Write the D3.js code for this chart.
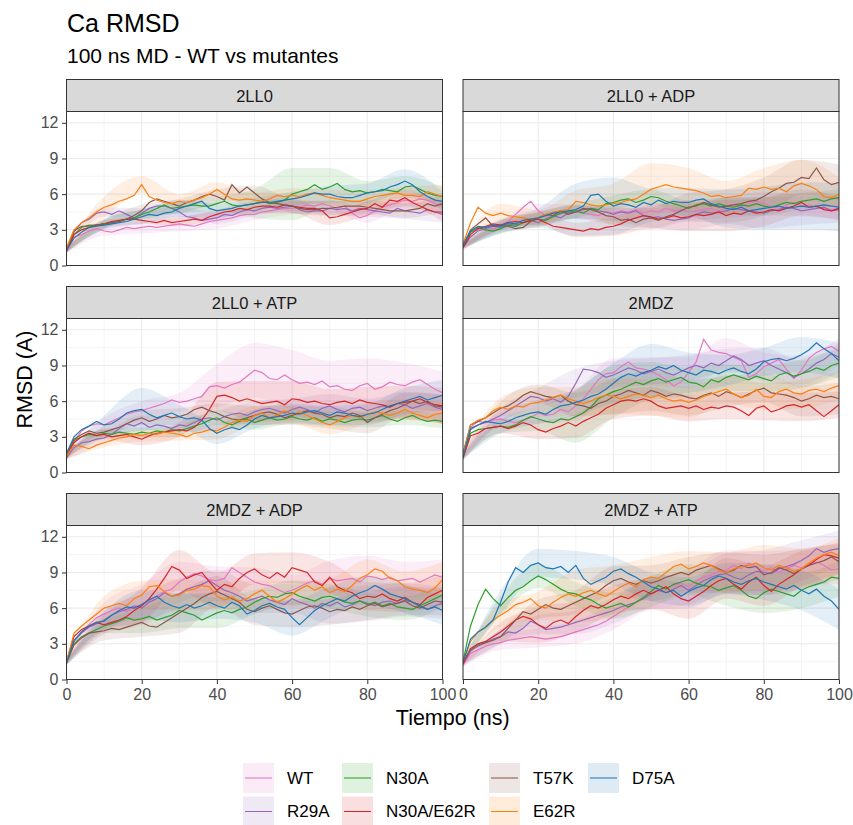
<!DOCTYPE html>
<html>
<head>
<meta charset="utf-8">
<script src="https://cdn.jsdelivr.net/npm/d3@7"></script>
<style>
body { margin: 0; background: #fff; }
svg { font-family: "Liberation Sans", Arial, Helvetica, sans-serif; }
</style>
</head>
<body>
<div id="chart"></div>
<script>
// ---- data ----
const PANELS = ["2LL0", "2LL0 + ADP", "2LL0 + ATP", "2MDZ", "2MDZ + ADP", "2MDZ + ATP"];
const SERIES = ["WT", "R29A", "N30A", "N30A/E62R", "T57K", "E62R", "D75A"];
const COLORS = ["#e377c2", "#9467bd", "#2ca02c", "#d62728", "#8c564b", "#ff7f0e", "#1f77b4"];
const X_TICKS = [0, 20, 40, 60, 80, 100];
const Y_TICKS = [0, 3, 6, 9, 12];
const TIME_NS = d3.range(0, 101, 2);          // sample times of the mean lines
const SD_TIME = [0, 10, 20, 30, 40, 50, 60, 70, 80, 90, 100]; // sample times of the ribbons

// mean RMSD per panel, one row per series (SERIES order), t = 0,2,...,100
const rmsd_2LL0 = [
  [1.2,2.4,2.6,2.9,3.1,2.9,2.8,3.0,3.2,3.1, 3.2,3.3,3.2,3.3,3.4,3.5,3.4,3.3,3.5,3.7, 3.8,3.9,4.0,4.2,4.3,4.3,4.5,4.6,4.7,4.8, 4.8,4.9,5.1,5.0,5.2,5.0,4.8,5.0,4.4,4.0, 4.2,4.6,4.9,5.1,5.3,5.5,5.4,5.6,5.5,5.2, 5.0],
  [1.2,2.8,3.6,3.9,4.4,4.5,4.3,4.6,4.3,4.0, 4.4,4.8,5.0,5.0,4.8,4.5,4.1,4.0,3.8,3.9, 4.0,4.3,4.2,4.5,4.7,4.6,4.8,4.9,4.8,4.9, 5.0,4.7,4.5,4.6,4.6,4.8,4.7,4.8,4.6,4.8, 4.7,4.6,4.5,4.4,4.8,4.6,4.5,4.4,4.7,4.5, 4.3],
  [1.3,2.6,3.2,3.4,3.4,3.5,3.6,3.7,3.9,4.0, 4.3,4.5,4.8,5.1,4.8,4.9,5.0,5.1,5.0,5.0, 5.2,5.4,5.1,5.0,5.1,5.2,5.4,5.2,5.3,5.5, 6.0,6.2,6.4,6.8,6.4,6.6,6.9,6.4,6.2,6.3, 6.1,6.2,6.4,6.3,6.2,6.6,6.7,6.4,6.1,5.9, 5.8],
  [1.2,2.6,3.0,3.2,3.4,3.5,3.7,3.8,3.9,3.9, 3.8,3.7,3.6,3.8,3.6,3.7,3.8,3.9,3.8,4.1, 4.3,4.5,4.6,4.8,4.7,4.9,5.0,5.0,4.9,5.1, 5.0,4.9,4.8,4.8,4.6,4.0,4.1,4.3,4.5,4.7, 4.8,5.2,4.9,5.5,5.4,5.7,5.3,5.0,4.7,4.5, 4.5],
  [1.4,2.9,3.3,3.3,3.4,3.5,3.6,3.7,3.9,4.2, 4.6,5.3,5.6,5.4,5.2,5.0,5.3,5.5,5.8,6.0, 5.8,5.5,6.8,6.1,6.6,6.1,5.6,5.3,5.2,5.1, 5.0,4.8,4.7,4.7,4.8,4.8,4.9,5.0,5.0,5.0, 4.9,4.8,4.7,4.6,4.6,4.6,4.7,4.8,5.2,5.0, 5.2],
  [1.5,3.0,3.6,4.0,4.5,4.9,5.1,5.4,5.6,5.9, 6.8,5.8,5.5,5.3,5.2,5.4,5.3,5.5,5.7,6.0, 6.4,6.0,5.6,5.5,5.6,5.5,5.4,5.6,5.9,5.8, 5.9,5.8,6.0,6.1,5.9,5.7,5.6,5.5,5.4,5.4, 5.6,5.8,5.9,6.0,6.1,5.9,5.9,5.8,6.2,6.0, 5.8],
  [1.3,2.3,2.8,3.2,3.3,3.4,3.5,3.6,3.7,3.9, 4.1,4.3,4.2,4.4,4.5,4.8,5.0,5.2,5.4,4.8, 4.6,4.7,4.8,5.0,5.1,5.2,5.3,5.3,5.4,5.5, 5.6,5.7,5.9,6.1,6.0,6.0,5.8,5.7,5.7,5.9, 6.1,6.2,6.3,6.6,6.8,7.1,6.8,6.2,5.8,5.5, 5.4]
];
const rmsd_2LL0_ADP = [
  [1.6,2.8,3.0,3.2,3.1,3.3,3.7,4.3,4.9,5.4, 4.6,4.2,4.4,4.3,4.6,4.5,4.4,4.3,4.2,4.5, 4.4,4.6,4.5,4.7,4.4,4.6,4.5,4.8,4.6,4.7, 4.5,4.6,4.7,4.8,4.6,4.9,5.1,5.0,5.2,5.4, 5.2,5.0,4.8,5.1,5.3,5.0,5.1,4.9,4.8,4.7, 4.8],
  [1.5,2.4,2.9,3.1,3.3,3.2,3.5,3.4,3.6,3.8, 3.6,3.9,4.2,4.0,4.4,4.5,4.7,4.8,4.6,4.5, 4.3,4.5,4.4,4.6,4.2,4.0,4.1,3.9,3.8,3.9, 4.0,4.3,4.5,4.4,4.5,4.6,4.8,4.7,4.6,4.5, 4.4,4.6,4.7,4.9,4.8,4.6,4.7,4.8,4.9,4.6, 4.7],
  [1.6,2.8,3.2,3.0,2.9,3.1,3.4,3.3,3.6,3.8, 3.9,3.8,4.1,4.4,4.5,4.6,4.4,4.8,4.7,5.2, 5.3,5.5,5.6,5.3,5.5,5.8,5.7,5.4,5.2,5.0, 4.8,5.1,5.2,5.0,5.2,5.0,4.9,5.1,5.0,5.2, 5.0,4.9,5.1,5.3,5.2,5.4,5.5,5.6,5.4,5.6, 5.7],
  [1.5,2.6,3.1,3.3,3.5,3.4,3.6,3.7,3.6,3.8, 3.9,3.6,3.3,3.2,3.1,3.0,2.9,3.1,3.0,3.2, 3.3,3.5,3.8,4.0,4.2,4.1,3.9,4.0,4.2,4.0, 4.1,4.3,4.2,4.3,4.5,4.2,4.4,4.3,4.6,4.4, 4.5,4.7,4.6,4.8,5.0,5.3,4.9,5.0,4.7,4.6, 4.8],
  [1.7,3.0,3.5,4.0,3.3,3.4,3.3,3.1,3.2,3.7, 4.0,4.3,4.2,4.6,4.3,4.5,4.8,4.7,4.5,4.2, 4.1,3.8,3.9,3.6,3.9,4.0,3.8,4.1,4.3,4.6, 4.9,5.0,5.3,5.1,4.9,5.0,5.1,5.2,5.4,5.5, 5.8,6.2,6.5,6.9,7.0,7.4,7.3,8.2,7.2,6.8, 7.0],
  [1.8,3.6,4.9,4.4,4.2,4.4,4.2,4.1,4.0,3.9, 4.0,4.3,4.5,4.6,4.7,5.4,5.3,5.1,5.0,5.1, 5.2,5.3,5.5,5.6,6.0,6.4,6.6,6.8,6.6,6.5, 6.4,6.3,6.1,5.8,5.9,5.7,5.8,5.9,6.5,6.4, 6.6,6.4,6.5,6.2,6.7,6.9,6.7,6.4,5.8,5.7, 6.0],
  [1.7,2.9,3.3,3.2,3.4,3.3,3.6,3.5,3.8,3.9, 4.0,4.2,4.4,4.5,4.6,4.7,5.0,5.9,6.0,5.4, 5.0,5.2,5.1,4.9,5.3,5.1,5.5,5.2,5.4,5.3, 5.3,5.5,5.6,5.2,5.0,4.8,4.7,4.9,4.6,4.7, 4.8,4.9,5.0,4.8,4.9,5.0,4.9,5.0,5.1,5.0, 4.9]
];
const rmsd_2LL0_ATP = [
  [1.3,2.6,3.5,3.9,4.1,4.0,4.3,4.6,4.9,5.1, 5.2,5.4,5.6,5.8,6.1,5.9,6.0,6.2,6.4,7.2, 7.3,7.1,7.4,7.6,8.1,8.6,8.4,7.9,7.8,8.2, 7.8,7.5,7.6,7.4,7.7,7.2,7.3,7.0,6.9,7.3, 7.5,7.0,7.2,7.6,7.4,7.3,7.6,7.8,7.4,7.0, 6.7],
  [1.2,2.1,2.5,2.6,2.8,2.9,3.2,3.7,4.1,3.9, 4.2,3.8,4.0,3.9,3.7,4.0,3.9,4.2,4.5,4.6, 4.4,4.7,4.9,5.0,4.8,5.1,5.3,5.4,5.2,5.0, 5.3,5.5,5.3,5.0,5.4,5.6,5.3,5.1,5.4,5.5, 5.2,5.4,5.6,5.5,5.8,5.7,5.4,5.6,5.8,5.5, 5.3],
  [1.3,2.7,3.0,3.2,3.1,3.3,3.2,3.4,3.3,3.2, 3.4,3.3,3.5,3.4,3.6,3.5,3.7,3.9,4.1,4.4, 4.6,4.2,4.0,4.3,4.5,4.2,4.4,4.6,4.4,4.5, 4.7,4.5,4.4,4.6,4.3,4.5,4.4,4.2,4.4,4.5, 4.4,4.6,4.8,4.5,4.3,4.6,4.8,4.5,4.3,4.4, 4.3],
  [1.5,2.5,3.0,3.3,3.1,3.2,3.0,3.1,3.2,3.0, 2.8,3.1,3.3,3.4,3.5,3.6,3.5,3.8,4.4,5.3, 6.4,6.5,6.3,6.0,6.2,6.0,5.8,5.9,6.0,5.7, 6.2,6.1,5.9,6.0,5.8,5.7,5.9,6.0,5.8,6.1, 5.9,5.8,5.7,5.5,5.8,5.9,6.0,6.2,5.9,5.7, 5.6],
  [1.5,2.8,3.2,3.5,3.3,3.4,3.6,3.8,4.1,4.4, 4.6,4.3,4.5,4.8,4.6,4.7,4.9,5.3,5.5,5.2, 5.0,4.7,4.5,4.4,4.6,4.8,5.0,5.1,4.9,4.6, 4.8,5.0,5.2,5.0,4.9,4.6,4.8,4.7,5.0,4.8, 4.2,4.6,4.9,5.2,5.4,5.7,6.0,5.8,6.0,5.6, 5.5],
  [1.4,2.3,2.2,2.0,2.3,2.5,2.7,2.9,3.0,3.2, 3.1,3.3,3.2,3.4,3.3,3.2,3.0,3.3,3.4,3.6, 3.5,3.8,4.2,4.4,4.3,4.8,5.0,4.6,4.8,5.2, 4.9,5.1,4.8,4.5,4.2,4.0,4.3,4.6,4.8,4.6, 4.9,5.1,5.0,4.8,5.0,5.3,5.0,4.8,4.6,4.9, 5.0],
  [1.6,3.0,3.6,3.9,4.3,4.0,4.1,4.5,5.0,5.2, 5.3,4.9,4.6,4.8,5.0,4.7,4.5,4.6,4.4,3.7, 3.3,3.6,3.8,3.6,4.0,4.5,4.8,4.6,4.7,4.8, 5.0,4.9,5.1,5.2,5.0,4.8,5.1,5.0,4.8,4.7, 4.9,5.0,5.3,5.6,5.8,6.0,6.2,6.4,6.1,6.3, 6.5]
];
const rmsd_2MDZ = [
  [1.4,3.8,4.3,4.2,4.4,4.5,4.3,4.2,4.4,4.6, 5.0,4.8,4.9,5.3,5.1,5.6,6.2,7.0,7.8,8.3, 8.4,8.9,9.3,8.8,8.7,8.5,8.2,7.8,7.3,7.6, 8.4,9.3,11.2,10.3,10.1,10.0,9.7,9.4,8.0,8.3, 8.9,9.2,9.5,8.7,7.9,8.6,9.6,10.1,10.4,10.6, 10.2],
  [1.3,3.6,4.0,4.2,4.5,4.8,5.2,5.6,6.0,6.4, 6.3,6.0,6.2,5.9,6.4,7.5,8.7,8.6,8.4,8.0, 8.2,8.5,8.8,8.6,8.3,8.5,8.7,8.4,8.2,8.5, 8.8,9.0,8.8,9.2,9.0,9.4,9.8,9.5,9.0,9.2, 9.4,9.0,8.7,8.4,8.0,8.3,8.7,9.2,9.5,10.0, 9.7],
  [1.3,3.3,3.6,3.7,3.8,3.9,3.8,4.0,4.4,4.7, 4.5,4.3,4.2,4.5,4.4,4.7,5.0,5.5,6.2,6.5, 6.8,7.0,7.3,7.6,7.4,7.7,7.9,7.6,7.8,8.0, 7.6,7.5,7.2,7.8,7.6,8.0,8.2,8.0,7.8,8.1, 7.9,7.7,8.2,8.4,8.1,8.3,8.5,8.8,8.6,9.0, 9.2],
  [1.2,3.1,3.3,3.7,3.8,3.9,3.7,3.9,4.2,4.0, 3.6,3.4,3.7,3.9,4.2,3.9,4.3,4.6,4.9,5.4, 5.7,6.0,6.1,6.0,6.2,6.0,5.6,5.4,5.5,5.6, 5.4,5.6,5.3,5.5,5.4,5.6,5.5,5.2,4.8,5.4, 5.6,5.1,5.3,5.6,5.7,5.5,5.7,5.2,4.7,5.2, 5.7],
  [1.6,4.0,4.3,4.6,5.0,5.4,5.6,6.0,6.5,6.8, 6.6,6.4,6.3,6.5,6.0,5.7,5.6,5.4,5.8,6.0, 6.4,6.6,6.9,6.7,6.5,6.9,6.7,6.4,6.6,6.5, 6.3,6.2,6.5,6.7,6.4,6.8,6.6,6.3,6.6,6.9, 7.1,6.7,6.6,6.5,6.3,6.0,6.2,6.5,6.3,6.4, 6.2],
  [1.5,4.0,4.4,4.6,5.2,5.5,5.3,5.6,5.5,5.8, 5.9,6.1,6.3,6.5,6.2,6.0,5.8,6.0,6.3,6.5, 6.4,6.2,6.4,6.6,6.5,6.3,6.5,6.2,6.0,6.1, 5.9,6.1,6.4,6.6,6.8,7.0,6.6,6.3,6.5,7.0, 6.4,6.3,6.8,7.0,6.7,6.6,6.9,7.0,6.8,7.1, 7.3],
  [1.3,3.7,4.0,4.3,4.2,4.1,4.3,4.6,4.8,5.0, 5.1,4.9,5.3,5.6,5.7,5.9,6.1,6.4,6.6,7.0, 7.5,8.0,8.3,8.1,8.4,8.6,8.9,8.7,9.0,8.6, 8.4,8.2,8.6,8.5,8.3,8.6,8.8,8.5,8.3,8.7, 9.3,9.5,9.6,9.4,9.6,9.9,10.3,10.9,10.4,10.0, 9.4]
];
const rmsd_2MDZ_ADP = [
  [1.6,3.2,4.0,4.6,5.2,5.5,5.8,6.0,5.7,6.1, 6.3,6.6,7.0,7.4,7.6,8.2,8.6,8.9,8.7,8.4, 8.3,8.5,9.4,9.0,8.6,8.2,8.0,7.9,7.6,7.3, 7.5,7.8,8.1,8.3,8.0,8.5,8.3,8.4,8.5,8.2, 8.7,8.6,8.4,8.6,8.3,8.4,8.5,8.2,8.5,8.8, 8.6],
  [1.4,3.2,3.9,4.4,4.7,5.0,5.4,5.7,5.9,6.2, 6.0,6.5,6.8,7.3,7.0,7.2,7.6,7.8,8.0,8.3, 7.9,7.5,7.3,7.0,6.6,6.8,7.0,6.7,6.5,6.3, 6.8,6.5,6.3,6.0,6.4,6.2,6.5,6.1,6.3,6.6, 6.4,6.2,6.5,6.6,6.4,6.7,6.5,6.1,5.9,6.2, 6.4],
  [1.4,3.0,3.6,3.9,4.2,4.5,4.7,4.9,5.2,5.0, 5.1,5.3,5.0,5.2,5.4,5.8,5.6,5.4,5.0,5.3, 5.6,5.8,5.6,5.9,6.1,6.5,6.8,7.0,6.9,7.2, 7.3,7.0,6.8,6.6,6.9,7.0,6.8,6.5,6.4,6.6, 6.3,6.5,6.2,6.4,6.1,6.0,5.9,6.2,6.5,6.8, 7.1],
  [1.5,3.6,4.2,4.5,4.8,4.6,4.8,5.0,5.3,5.8, 6.2,6.8,7.6,8.5,9.5,9.2,8.5,8.8,9.0,8.2, 7.5,8.0,7.8,8.5,9.0,9.3,8.8,8.5,9.0,8.6, 9.4,9.2,9.0,8.2,7.9,8.6,7.8,7.5,7.3,6.8, 7.0,6.9,7.2,6.8,6.6,6.9,6.5,6.3,6.9,7.2, 7.5],
  [1.4,2.9,3.5,3.9,4.0,4.1,4.3,4.2,4.4,4.6, 4.8,4.5,4.4,4.8,5.2,5.6,6.0,6.4,6.9,7.2, 7.4,7.1,6.8,6.5,5.9,5.7,6.0,6.2,5.9,5.6, 5.5,5.8,6.1,6.2,6.0,5.7,5.9,5.8,6.1,5.9, 6.2,6.4,6.1,6.3,6.4,6.6,6.2,6.0,6.3,6.6, 6.5],
  [1.5,3.9,4.5,5.0,5.5,6.0,6.2,6.4,6.2,6.8, 7.1,7.8,7.9,7.4,7.0,7.1,7.5,7.6,7.9,7.8, 7.0,6.7,6.9,6.6,6.8,7.2,7.5,7.0,6.5,6.8, 7.2,7.6,7.9,7.5,7.8,7.3,7.6,7.4,7.9,8.5, 8.8,9.3,9.1,8.5,8.3,7.8,7.6,7.5,7.3,7.7, 8.4],
  [1.4,3.3,4.0,4.5,4.8,4.9,5.4,5.8,6.1,6.0, 6.3,6.7,7.0,6.5,6.2,6.0,6.3,6.0,6.2,6.5, 6.2,6.0,6.5,6.2,5.5,5.8,6.2,6.4,6.1,5.9, 5.2,4.6,5.2,5.8,6.2,6.5,6.8,6.6,7.0,7.3, 7.5,7.9,7.6,7.2,7.0,6.8,6.5,6.2,5.9,6.1, 5.8]
];
const rmsd_2MDZ_ATP = [
  [1.2,2.2,2.5,2.8,3.0,3.1,3.3,3.4,3.5,3.6, 3.5,3.4,3.5,3.6,3.8,4.0,4.2,4.4,4.6,4.9, 5.3,5.7,6.1,6.5,6.9,7.2,7.5,7.7,7.9,8.1, 7.8,8.3,8.6,8.8,9.1,9.2,9.6,9.3,9.8,9.5, 9.1,9.4,9.0,9.3,9.6,9.4,9.7,9.9,9.6,9.2, 9.3],
  [1.3,2.4,2.8,3.1,3.4,3.6,4.0,3.9,4.3,4.9, 4.6,4.2,4.3,4.4,4.6,4.8,5.0,5.2,5.4,5.6, 5.8,6.1,6.3,6.5,6.8,7.2,7.5,7.3,7.6,7.9, 7.5,7.9,8.3,8.6,8.8,8.9,8.6,8.4,8.8,9.1, 9.0,8.9,9.3,9.5,9.7,10.0,10.4,11.0,10.7,10.9, 11.0],
  [1.5,4.5,6.3,7.6,6.8,6.2,6.9,7.5,7.8,8.3, 8.7,8.4,8.0,7.6,7.3,7.2,6.9,6.7,6.3,6.0, 6.2,6.4,6.1,6.5,6.9,7.4,7.9,7.6,8.0,8.2, 8.4,8.1,7.9,7.8,7.5,7.7,7.9,7.5,7.0,6.8, 7.3,7.6,7.4,7.2,7.0,7.5,7.8,8.0,8.2,8.6, 8.5],
  [1.3,2.6,3.0,3.2,3.6,4.0,4.5,5.0,5.3,5.1, 4.6,4.3,4.8,5.0,4.7,5.3,5.8,6.2,6.0,6.3, 6.7,7.0,6.8,7.2,7.5,7.2,7.5,7.8,7.2,6.8, 6.6,7.0,7.4,7.9,8.3,8.5,8.0,7.6,8.2,8.6, 7.9,7.4,8.0,8.4,8.8,9.3,9.6,10.1,10.5,10.4, 10.2],
  [1.5,2.5,2.9,3.1,3.3,3.6,4.3,5.0,5.7,5.5, 5.9,6.3,6.0,5.9,6.2,6.5,6.8,7.1,7.4,7.9, 8.3,8.5,8.2,8.0,8.3,8.1,8.3,8.6,8.8,9.0, 8.8,9.2,9.4,9.6,9.3,9.0,9.2,9.6,9.4,9.5, 8.8,9.0,9.4,9.2,8.9,9.3,9.6,9.8,10.0,10.3, 9.9],
  [1.5,3.2,4.0,4.4,5.0,5.4,5.8,6.3,6.5,6.8, 6.2,6.0,6.5,6.9,7.2,7.0,7.3,7.5,7.2,7.0, 7.4,7.8,8.1,7.8,8.4,8.6,8.5,9.0,9.5,9.7, 9.3,9.5,9.8,9.6,9.2,9.0,9.3,9.5,9.6,9.8, 9.4,9.2,9.6,9.4,9.1,9.3,9.8,10.2,10.5,10.7, 10.4],
  [1.4,3.4,4.0,4.4,5.0,6.5,8.2,9.4,9.0,9.6, 9.8,9.4,9.3,9.5,9.0,9.6,8.5,8.0,8.3,8.6, 9.1,9.3,8.9,8.6,8.2,7.8,7.6,7.3,7.5,7.0, 7.4,7.7,7.9,8.4,8.7,8.5,8.2,8.0,8.3,8.5, 8.2,8.0,7.8,7.6,7.9,7.5,7.2,7.6,7.0,6.6, 5.9]
];

// spread (sd) of the replicas, t = 0,10,...,100
const sd_2LL0 = [
  [0.2,0.4,0.5,0.6,0.7,0.5,0.5,0.5,0.6,0.6,0.7],
  [0.2,0.4,0.4,0.4,0.5,0.4,0.4,0.6,0.6,0.7,0.7],
  [0.2,0.4,0.4,0.5,0.6,1.2,2.2,1.6,1.0,0.9,0.8],
  [0.2,0.3,0.3,0.4,0.4,0.5,0.6,0.6,0.6,0.7,0.8],
  [0.2,0.4,0.5,0.6,0.6,0.6,0.6,0.6,0.6,0.6,0.7],
  [0.2,0.9,0.7,0.6,0.6,0.6,0.6,0.7,0.7,0.7,1.0],
  [0.2,0.4,0.6,0.7,0.6,0.5,0.6,0.7,0.8,1.0,0.8]
];
const sd_2LL0_ADP = [
  [0.2,0.4,0.6,0.6,0.6,0.6,0.7,0.9,1.0,0.9,0.9],
  [0.2,0.4,0.4,0.5,0.6,0.8,1.0,1.1,1.3,1.2,1.1],
  [0.2,0.4,0.6,0.6,0.6,0.6,0.7,0.7,0.8,0.7,0.7],
  [0.2,0.4,0.5,0.6,0.8,1.0,1.2,1.3,1.2,1.1,1.0],
  [0.2,0.4,0.5,0.6,0.7,0.9,1.2,1.4,1.6,1.5,1.5],
  [0.2,0.8,0.7,0.9,1.7,2.2,1.8,1.4,1.6,2.0,1.4],
  [0.2,0.6,0.8,2.2,2.4,1.4,1.2,1.6,1.8,2.0,2.0]
];
const sd_2LL0_ATP = [
  [0.2,0.6,0.8,0.8,1.8,2.3,2.5,2.2,2.1,1.9,1.8],
  [0.2,0.4,0.6,0.6,0.8,0.9,0.9,1.0,1.0,1.1,1.2],
  [0.2,0.4,0.4,0.5,0.6,0.6,0.6,0.6,0.6,0.6,0.6],
  [0.2,0.4,0.5,0.6,1.2,1.7,1.5,1.3,1.3,1.4,1.5],
  [0.2,0.5,0.6,0.7,0.8,0.8,0.8,0.9,0.9,1.0,1.1],
  [0.2,0.4,0.5,0.5,0.7,0.8,0.8,0.8,0.8,0.9,0.9],
  [0.2,0.8,1.8,1.0,0.9,0.8,0.8,0.8,0.9,1.1,1.3]
];
const sd_2MDZ = [
  [0.2,0.7,0.9,1.3,1.2,1.2,1.3,1.3,1.2,1.2,1.1],
  [0.2,0.6,0.8,1.2,1.2,1.1,1.1,1.0,1.1,1.1,1.2],
  [0.2,0.6,1.0,2.2,2.2,1.6,1.2,1.1,1.1,1.2,1.2],
  [0.2,0.6,0.8,1.0,1.2,1.2,1.1,1.1,1.2,1.2,1.1],
  [0.2,0.6,0.8,1.0,1.5,1.7,1.5,1.3,1.2,1.3,1.3],
  [0.2,0.8,1.3,1.2,1.5,1.5,1.3,1.2,1.1,1.2,1.2],
  [0.2,0.8,1.0,1.1,1.7,2.2,1.7,1.3,1.2,1.5,1.5]
];
const sd_2MDZ_ADP = [
  [0.2,1.0,1.7,1.7,1.2,1.2,1.3,1.5,1.7,1.5,1.5],
  [0.2,0.8,1.2,1.3,1.3,1.2,1.2,1.5,1.5,1.4,1.3],
  [0.2,0.6,1.2,1.5,1.3,1.0,1.0,1.0,1.0,1.0,1.0],
  [0.2,0.8,1.5,1.7,1.5,1.3,1.3,1.3,1.2,1.2,1.3],
  [0.2,0.8,1.2,1.7,1.3,1.1,1.1,1.1,1.2,1.2,1.1],
  [0.2,1.0,1.2,1.3,1.2,1.1,1.1,1.2,1.3,1.3,1.5],
  [0.2,0.8,1.2,1.2,1.1,1.0,1.5,1.3,1.2,1.2,1.2]
];
const sd_2MDZ_ATP = [
  [0.2,0.6,0.8,1.0,1.1,1.3,1.5,1.7,1.7,1.5,1.3],
  [0.2,0.6,0.8,1.0,1.1,1.3,1.5,1.7,1.9,1.7,1.5],
  [0.2,0.8,1.0,1.0,1.1,1.3,1.3,1.5,1.7,1.5,1.5],
  [0.2,0.8,1.5,1.3,1.2,1.3,1.5,1.7,1.7,1.5,1.3],
  [0.2,0.6,0.8,1.0,1.2,1.5,1.5,1.7,1.7,1.7,1.5],
  [0.2,1.0,1.2,2.2,2.2,1.7,1.5,1.7,1.9,1.7,1.5],
  [0.2,1.0,1.2,1.2,1.2,1.2,1.2,1.3,1.5,1.7,1.7]
];

const MEANS = [rmsd_2LL0, rmsd_2LL0_ADP, rmsd_2LL0_ATP, rmsd_2MDZ, rmsd_2MDZ_ADP, rmsd_2MDZ_ATP];
const SDS = [sd_2LL0, sd_2LL0_ADP, sd_2LL0_ATP, sd_2MDZ, sd_2MDZ_ADP, sd_2MDZ_ATP];

// ---- layout ----
const W = 853, H = 825;
const COL_X = [66.5, 463];
const PANEL_W = 376;
const STRIP_TOP = [79.5, 286.5, 493.5];
const STRIP_H = 32, PANEL_H = 154;
const FONT_TICK = 16;

const x = d3.scaleLinear().domain([0, 100]).range([0, PANEL_W]);
const y = d3.scaleLinear().domain([0, 12.95]).range([PANEL_H, 0]);

const svg = d3.select("#chart").append("svg")
    .attr("width", W)
    .attr("height", H);

svg.append("rect").attr("width", W).attr("height", H).attr("fill", "#fff");

// titles
svg.append("text")
    .attr("x", 67).attr("y", 32)
    .attr("font-size", 25).attr("fill", "#000")
    .text("Ca RMSD");
svg.append("text")
    .attr("x", 67).attr("y", 63)
    .attr("font-size", 21).attr("fill", "#000")
    .text("100 ns MD - WT vs mutantes");

const line = d3.line()
    .x(d => x(d.t))
    .y(d => y(d.v));

const area = d3.area()
    .x(d => x(d.t))
    .y0(d => y(d.v - d.sd))
    .y1(d => y(d.v + d.sd))
    .curve(d3.curveMonotoneX);

PANELS.forEach((name, i) => {
    const col = i % 2, row = Math.floor(i / 2);
    const top = STRIP_TOP[row] + STRIP_H;

    const g = svg.append("g")
        .attr("transform", `translate(${COL_X[col]},${top})`);

    // strip
    svg.append("rect")
        .attr("x", COL_X[col]).attr("y", STRIP_TOP[row])
        .attr("width", PANEL_W).attr("height", STRIP_H)
        .attr("fill", "#d9d9d9").attr("stroke", "#333").attr("stroke-width", 1);
    svg.append("text")
        .attr("x", COL_X[col] + PANEL_W / 2).attr("y", STRIP_TOP[row] + STRIP_H / 2)
        .attr("text-anchor", "middle").attr("dominant-baseline", "central")
        .attr("font-size", 16.5).attr("fill", "#1a1a1a")
        .text(name);

    // grid: minor then major
    const minorX = [10, 30, 50, 70, 90], minorY = [1.5, 4.5, 7.5, 10.5];
    g.selectAll(".gxm").data(minorX).enter().append("line")
        .attr("x1", d => x(d)).attr("x2", d => x(d)).attr("y1", 0).attr("y2", PANEL_H)
        .attr("stroke", "#ebebeb").attr("stroke-width", 0.55);
    g.selectAll(".gym").data(minorY).enter().append("line")
        .attr("y1", d => y(d)).attr("y2", d => y(d)).attr("x1", 0).attr("x2", PANEL_W)
        .attr("stroke", "#ebebeb").attr("stroke-width", 0.55);
    g.selectAll(".gx").data(X_TICKS).enter().append("line")
        .attr("x1", d => x(d)).attr("x2", d => x(d)).attr("y1", 0).attr("y2", PANEL_H)
        .attr("stroke", "#ebebeb").attr("stroke-width", 1.1);
    g.selectAll(".gy").data(Y_TICKS).enter().append("line")
        .attr("y1", d => y(d)).attr("y2", d => y(d)).attr("x1", 0).attr("x2", PANEL_W)
        .attr("stroke", "#ebebeb").attr("stroke-width", 1.1);

    const clipId = "clip" + i;
    g.append("clipPath").attr("id", clipId)
        .append("rect").attr("width", PANEL_W).attr("height", PANEL_H);

    const plot = g.append("g").attr("clip-path", `url(#${clipId})`);

    const series = SERIES.map((s, k) => ({
        name: s,
        color: COLORS[k],
        pts: TIME_NS.map((t, j) => ({t: t, v: MEANS[i][k][j]})),
        band: SD_TIME.map((t, j) => ({t: t, v: MEANS[i][k][TIME_NS.indexOf(t)], sd: SDS[i][k][j]}))
    }));

    // ribbons first, then lines (as ggplot layers)
    plot.selectAll(".band").data(series).enter().append("path")
        .attr("d", d => area(d.band))
        .attr("fill", d => d.color)
        .attr("fill-opacity", 0.12);

    plot.selectAll(".ln").data(series).enter().append("path")
        .attr("d", d => line(d.pts))
        .attr("fill", "none")
        .attr("stroke", d => d.color)
        .attr("stroke-width", 1.2);

    // panel border
    g.append("rect")
        .attr("width", PANEL_W).attr("height", PANEL_H)
        .attr("fill", "none").attr("stroke", "#333").attr("stroke-width", 1);

    if (col === 0) {
        const ya = g.append("g").call(d3.axisLeft(y).tickValues(Y_TICKS).tickSize(4.5).tickPadding(3.5));
        ya.select(".domain").remove();
        ya.selectAll(".tick line").attr("stroke", "#333");
        ya.selectAll(".tick text").attr("fill", "#4d4d4d")
            .attr("font-size", FONT_TICK).attr("font-family", null);
    }
    if (row === 2) {
        const xa = g.append("g").attr("transform", `translate(0,${PANEL_H})`)
            .call(d3.axisBottom(x).tickValues(X_TICKS).tickSize(4.5).tickPadding(4.5));
        xa.select(".domain").remove();
        xa.selectAll(".tick line").attr("stroke", "#333");
        xa.selectAll(".tick text").attr("fill", "#4d4d4d")
            .attr("font-size", FONT_TICK).attr("font-family", null);
    }
});

// axis titles
svg.append("text")
    .attr("x", (COL_X[0] + COL_X[1] + PANEL_W) / 2).attr("y", 725)
    .attr("text-anchor", "middle").attr("font-size", 21.5).attr("fill", "#000")
    .text("Tiempo (ns)");
svg.append("text")
    .attr("transform", `translate(32,${(STRIP_TOP[0] + STRIP_TOP[2] + STRIP_H + PANEL_H) / 2}) rotate(-90)`)
    .attr("text-anchor", "middle").attr("font-size", 21.5).attr("fill", "#000")
    .text("RMSD (A)");

// legend: 4 columns x 2 rows, filled column by column
const LEG_X = [243, 342, 489, 588];
const LEG_Y = [763, 796.5];
const KEY_W = 31, KEY_H = 30;

const leg = svg.append("g");
SERIES.forEach((s, k) => {
    const kx = LEG_X[Math.floor(k / 2)], ky = LEG_Y[k % 2];
    leg.append("rect")
        .attr("x", kx).attr("y", ky).attr("width", KEY_W).attr("height", KEY_H)
        .attr("fill", COLORS[k]).attr("fill-opacity", 0.15);
    leg.append("line")
        .attr("x1", kx + 2).attr("x2", kx + KEY_W - 2)
        .attr("y1", ky + KEY_H / 2).attr("y2", ky + KEY_H / 2)
        .attr("stroke", COLORS[k]).attr("stroke-width", 1.05);
    leg.append("text")
        .attr("x", kx + 44).attr("y", ky + KEY_H / 2)
        .attr("dominant-baseline", "central")
        .attr("font-size", 17).attr("fill", "#000")
        .text(s);
});
</script>
</body>
</html>
